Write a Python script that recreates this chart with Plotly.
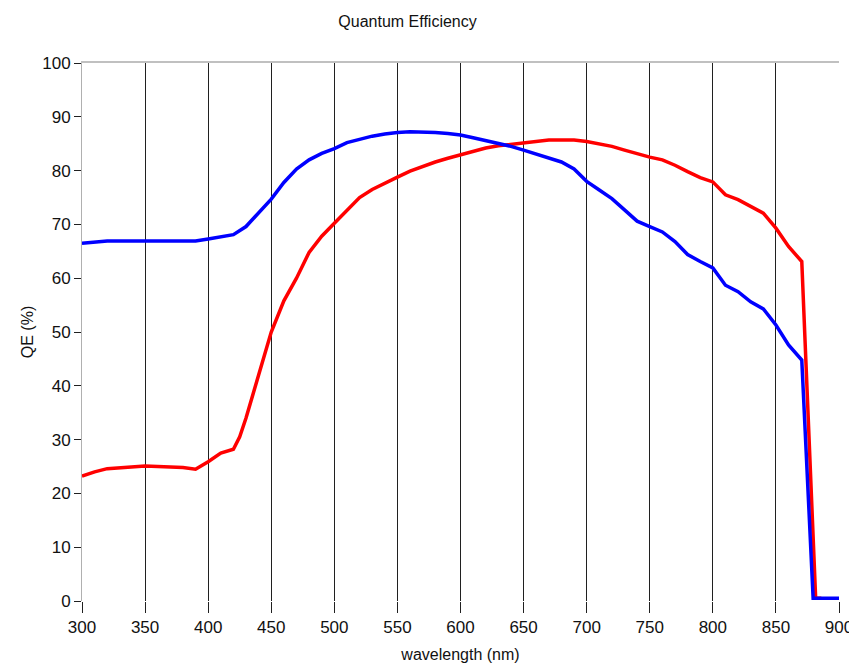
import plotly.graph_objects as go

# Spectral response curves (wavelength in nm, QE in %)
blue_wl = [300, 310, 320, 330, 340, 350, 360, 370, 380, 390,
           400, 410, 420, 430, 440, 450, 460, 470, 480, 490,
           500, 510, 520, 530, 540, 550, 560, 570, 580, 590,
           600, 610, 620, 630, 640, 650, 660, 670, 680, 690,
           700, 710, 720, 730, 740, 750, 760, 770, 780, 790,
           800, 810, 820, 830, 840, 850, 860, 870.5, 879.5, 890, 900]
blue_qe = [66.5, 66.7, 66.9, 66.9, 66.9, 66.9, 66.9, 66.9, 66.9, 66.9,
           67.3, 67.7, 68.1, 69.6, 72.1, 74.7, 77.8, 80.3, 82.0, 83.2,
           84.1, 85.2, 85.8, 86.4, 86.8, 87.1, 87.2, 87.2, 87.1, 86.9,
           86.6, 86.1, 85.6, 85.1, 84.5, 83.8, 83.1, 82.3, 81.6, 80.3,
           78.0, 76.4, 74.8, 72.7, 70.6, 69.6, 68.6, 66.8, 64.4, 63.1,
           61.9, 58.7, 57.5, 55.6, 54.3, 51.3, 47.6, 44.8, 0.5, 0.5, 0.5]

red_wl = [300, 310, 320, 330, 340, 350, 360, 370, 380, 390,
          400, 410, 420, 425, 430, 440, 450, 460, 470, 480, 490,
          500, 510, 520, 530, 540, 550, 560, 570, 580, 590,
          600, 610, 620, 630, 640, 650, 660, 670, 680, 690,
          700, 710, 720, 730, 740, 750, 760, 770, 780, 790,
          800, 810, 820, 830, 840, 850, 860, 870.5, 881.5, 886]
red_qe = [23.2, 24.0, 24.6, 24.8, 25.0, 25.1, 25.0, 24.9, 24.8, 24.5,
          25.9, 27.5, 28.2, 30.5, 34.0, 42.0, 50.0, 55.8, 60.0, 64.8, 67.8,
          70.2, 72.7, 75.0, 76.5, 77.7, 78.8, 79.9, 80.8, 81.6, 82.3,
          82.9, 83.6, 84.2, 84.6, 84.9, 85.2, 85.5, 85.7, 85.7, 85.7,
          85.4, 85.0, 84.5, 83.8, 83.1, 82.5, 82.0, 81.0, 79.8, 78.7,
          77.9, 75.5, 74.6, 73.3, 72.1, 69.3, 65.9, 63.1, 0.5, 0.5]

x_ticks = list(range(300, 901, 50))
y_ticks = list(range(0, 101, 10))

FONT = "Liberation Sans, Arial, sans-serif"

fig = go.Figure()
fig.add_trace(go.Scatter(x=red_wl, y=red_qe, mode="lines",
                         line=dict(color="#ff0000", width=3.5), showlegend=False))
fig.add_trace(go.Scatter(x=blue_wl, y=blue_qe, mode="lines",
                         line=dict(color="#0000ff", width=3.5), showlegend=False))
# invisible trace that anchors the top frame axis
fig.add_trace(go.Scatter(x=[300], y=[0], xaxis="x2", mode="markers",
                         marker=dict(opacity=0), showlegend=False, hoverinfo="skip"))

fig.update_layout(
    width=849, height=671,
    margin=dict(l=82, r=10, t=63, b=70, autoexpand=False),
    paper_bgcolor="white", plot_bgcolor="white",
    font=dict(family=FONT, size=17, color="#111111"),
    title=dict(text="Quantum Efficiency", x=0.48, xanchor="center",
               y=0.968, yanchor="middle", font=dict(family=FONT, size=16, color="#111111")),
    xaxis=dict(range=[300, 900], tickvals=x_ticks, ticktext=[str(v) for v in x_ticks],
               showgrid=True, gridcolor="#202020", gridwidth=1,
               ticks="outside", ticklen=11, tickcolor="#202020", tickwidth=1,
               ticklabeloverflow="allow", automargin=False,
               showline=False, zeroline=False,
               title=dict(text="wavelength (nm)", standoff=12,
                          font=dict(family=FONT, size=16))),
    xaxis2=dict(range=[300, 900], overlaying="x", side="top", showgrid=False,
                showticklabels=False, ticks="", showline=True,
                linecolor="#c0c0c0", linewidth=2, zeroline=False),
    yaxis=dict(range=[0, 100], tickvals=y_ticks, showgrid=False,
               ticks="outside", ticklen=7, tickcolor="#202020", tickwidth=1,
               showline=True, linecolor="#b0b0b0", linewidth=1, zeroline=False,
               title=dict(text="QE (%)", standoff=4,
                          font=dict(family=FONT, size=16))),
)

fig.write_html("out.html")
